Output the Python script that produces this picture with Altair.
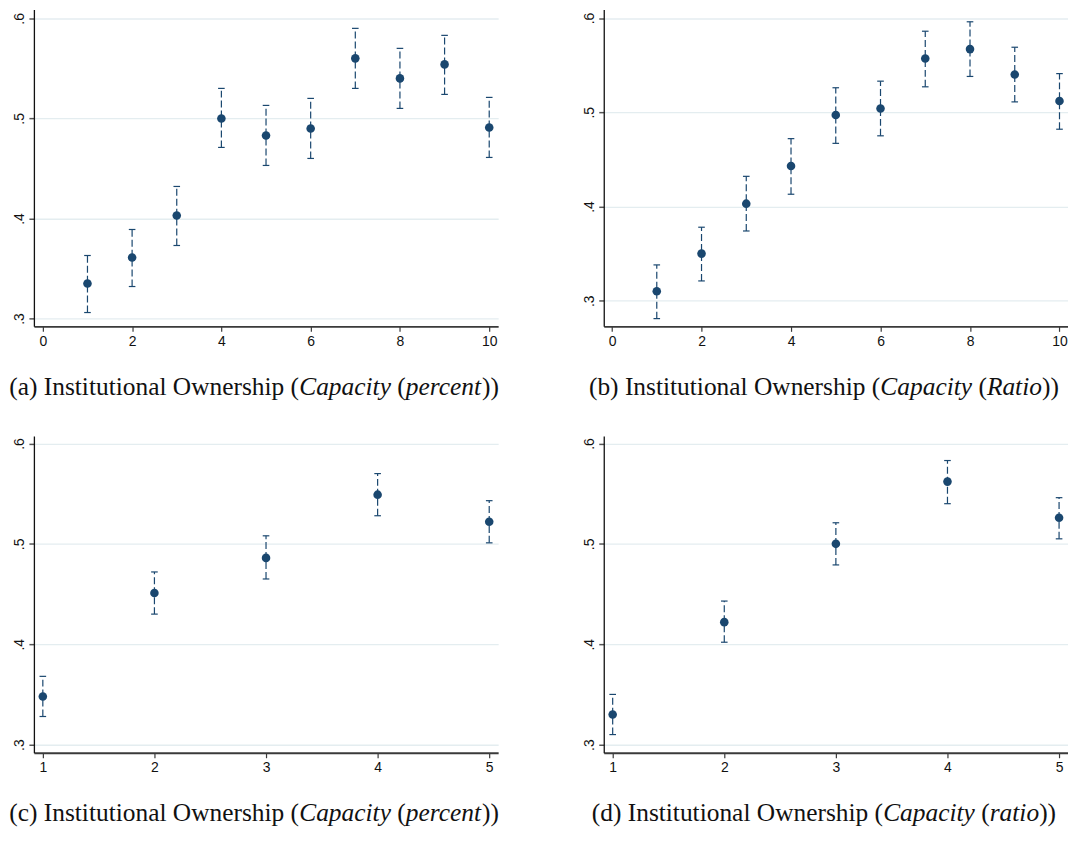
import altair as alt
import pandas as pd

# ---------------- data ----------------
x10 = [1, 2, 3, 4, 5, 6, 7, 8, 9, 10]
x5 = [1, 2, 3, 4, 5]

a_mean = [0.335, 0.361, 0.403, 0.500, 0.483, 0.490, 0.560, 0.540, 0.554, 0.491]
a_hi = [0.363, 0.389, 0.432, 0.530, 0.513, 0.520, 0.590, 0.570, 0.583, 0.521]
a_lo = [0.306, 0.332, 0.373, 0.471, 0.453, 0.460, 0.530, 0.510, 0.524, 0.461]

b_mean = [0.310, 0.350, 0.403, 0.443, 0.497, 0.504, 0.557, 0.567, 0.540, 0.512]
b_hi = [0.338, 0.378, 0.432, 0.472, 0.526, 0.533, 0.586, 0.596, 0.569, 0.541]
b_lo = [0.281, 0.321, 0.374, 0.413, 0.467, 0.475, 0.527, 0.538, 0.511, 0.482]

c_mean = [0.348, 0.451, 0.486, 0.549, 0.522]
c_hi = [0.368, 0.472, 0.508, 0.570, 0.543]
c_lo = [0.328, 0.430, 0.465, 0.528, 0.501]

d_mean = [0.330, 0.422, 0.500, 0.562, 0.526]
d_hi = [0.350, 0.443, 0.521, 0.583, 0.546]
d_lo = [0.310, 0.402, 0.479, 0.540, 0.505]

y_ticks = [0.3, 0.4, 0.5, 0.6]
x_ticks10 = [0, 2, 4, 6, 8, 10]
x_ticks5 = [1, 2, 3, 4, 5]

cap_a = [("(a) Institutional Ownership (", False), ("Capacity", True), (" (", False), ("percent", True), ("))", False)]
cap_b = [("(b) Institutional Ownership (", False), ("Capacity", True), (" (", False), ("Ratio", True), ("))", False)]
cap_c = [("(c) Institutional Ownership (", False), ("Capacity", True), (" (", False), ("percent", True), ("))", False)]
cap_d = [("(d) Institutional Ownership (", False), ("Capacity", True), (" (", False), ("ratio", True), ("))", False)]

# ---------------- style ----------------
NAVY = "#1a476f"
W, H = 466, 318
CAP_SIZE = 25.5

# Times / Liberation Serif advance widths (per 1000 em)
REG = {" ": 250, "(": 333, ")": 333, "a": 444, "b": 500, "c": 444, "d": 500, "e": 444,
       "h": 500, "i": 278, "l": 278, "n": 500, "o": 500, "p": 500, "r": 333, "s": 389,
       "t": 278, "u": 500, "w": 722, "I": 333, "O": 722}
ITA = {"C": 667, "a": 500, "p": 500, "c": 444, "i": 278, "t": 278, "y": 444, "e": 444,
       "r": 389, "n": 500, "R": 611, "o": 500, " ": 250}


def tw(s, italic, size):
    tab = ITA if italic else REG
    return sum(tab.get(ch, 500) for ch in s) * size / 1000.0


def caption_layers(segments, center, baseline_y, size=CAP_SIZE):
    total = sum(tw(s, it, size) for s, it in segments)
    x = center - total / 2.0
    layers = []
    for s, it in segments:
        stripped = s.lstrip(" ")
        lead = tw(s[: len(s) - len(stripped)], it, size)
        layers.append(
            alt.Chart(pd.DataFrame({"t": [stripped]}))
            .mark_text(align="left", baseline="alphabetic", font="Liberation Serif",
                       fontSize=size, fontStyle="italic" if it else "normal", color="#111111")
            .encode(text="t:N", x=alt.value(x + lead), y=alt.value(baseline_y))
        )
        x += tw(s, it, size)
    return layers


def panel(xs, mean, lo, hi, xdom, xticks, ydom, segments):
    df = pd.DataFrame({"x": xs, "m": mean, "lo": lo, "hi": hi})
    xscale = alt.Scale(domain=xdom, nice=False, zero=False)
    yscale = alt.Scale(domain=ydom, nice=False, zero=False)
    xaxis = alt.Axis(values=xticks, title="", grid=False, format="d",
                     domainColor="#3a3a3a", domainWidth=1.8, tickColor="#3a3a3a",
                     tickWidth=1.2, tickSize=5, labelFont="Liberation Sans",
                     labelFontSize=14, labelColor="#111111", labelPadding=3)
    yaxis = alt.Axis(values=y_ticks, title="", grid=True, gridColor="#e4edf0", gridWidth=1.3,
                     labelExpr="replace(format(datum.value, '.1f'), '0.', '.')",
                     labelAngle=270, labelAlign="center", labelBaseline="bottom",
                     domainColor="#111111", domainWidth=1.3, tickColor="#555555",
                     tickWidth=1.5, tickSize=5, labelFont="Liberation Sans",
                     labelFontSize=14, labelColor="#111111", labelPadding=2)
    X = alt.X("x:Q", scale=xscale, axis=xaxis)
    base = alt.Chart(df)
    bars = base.mark_rule(color=NAVY, strokeWidth=1.2, strokeDash=[7, 3]).encode(
        x=X, y=alt.Y("lo:Q", scale=yscale, axis=yaxis), y2="hi:Q")
    cap_lo = base.mark_point(shape="M-1,0L1,0", size=44, filled=False, color=NAVY,
                             strokeWidth=1.2, opacity=1).encode(
        x=alt.X("x:Q", title=""), y=alt.Y("lo:Q", title=""))
    cap_hi = base.mark_point(shape="M-1,0L1,0", size=44, filled=False, color=NAVY,
                             strokeWidth=1.2, opacity=1).encode(
        x=alt.X("x:Q", title=""), y=alt.Y("hi:Q", title=""))
    pts = base.mark_circle(size=74, color=NAVY, opacity=1).encode(
        x=alt.X("x:Q", title=""), y=alt.Y("m:Q", title=""))
    caps = caption_layers(segments, center=221, baseline_y=H + 69)
    return alt.layer(bars, cap_lo, cap_hi, pts, *caps).properties(width=W, height=H)


pa = panel(x10, a_mean, a_lo, a_hi, [-0.2, 10.2], x_ticks10, [0.2922, 0.6088], cap_a)
pb = panel(x10, b_mean, b_lo, b_hi, [-0.185, 10.19], x_ticks10, [0.2728, 0.609], cap_b)
pc = panel(x5, c_mean, c_lo, c_hi, [0.92, 5.08], x_ticks5, [0.2919, 0.6075], cap_c)
pd_ = panel(x5, d_mean, d_lo, d_hi, [0.92, 5.08], x_ticks5, [0.2919, 0.6075], cap_d)

chart = (
    alt.concat(pa, pb, pc, pd_, columns=2, spacing={"row": 110, "column": 106}, bounds="flush")
    .properties(padding={"left": 1, "top": 0, "right": 0, "bottom": 0}, background="white")
    .configure_view(strokeWidth=0)
)

chart.save("out.html", embed_options={"renderer": "svg", "actions": False})
